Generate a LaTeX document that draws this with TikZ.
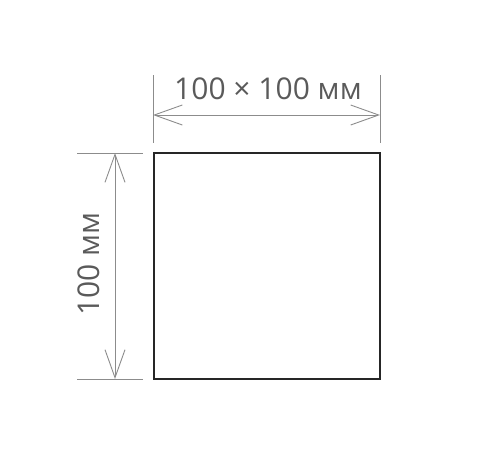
\documentclass[tikz,border=0pt]{standalone}
\usepackage{fontspec}
\setmainfont{Open Sans}
\usetikzlibrary{arrows.meta}
\definecolor{dimgray}{HTML}{8C8C8C}
\definecolor{labelgray}{HTML}{5A5A5A}
\begin{document}
\begin{tikzpicture}[x=1pt, y=-1pt,
  plate/.style={draw=black!85, line width=1.8pt},
  extline/.style={draw=dimgray, line width=0.9pt},
  dimline/.style={draw=dimgray, line width=0.9pt,
    {Straight Barb[length=28pt, width=20pt]}-{Straight Barb[length=28pt, width=20pt]}},
  dimlabel/.style={text=labelgray, font=\fontsize{30}{30}\selectfont, inner sep=0pt},
]
  \useasboundingbox (0,0) rectangle (500,450);

  % square plate
  \coordinate (tl) at (154,153);
  \coordinate (br) at (380,379);
  \draw[plate] (tl) rectangle (br);

  % top dimension
  \coordinate (ta0) at (153,75);
  \coordinate (ta1) at (153,143);
  \coordinate (tb0) at (380,75);
  \coordinate (tb1) at (380,143);
  \coordinate (ta) at (153,115);
  \coordinate (tb) at (380,115);
  \draw[extline] (ta0) -- (ta1);
  \draw[extline] (tb0) -- (tb1);
  \draw[dimline] (ta) -- (tb);
  \node[dimlabel] (toplabel) at (268,89) {100 × 100 мм};

  % left dimension
  \coordinate (la0) at (77,153);
  \coordinate (la1) at (143,153);
  \coordinate (lb0) at (77,379);
  \coordinate (lb1) at (143,379);
  \coordinate (la) at (115,153);
  \coordinate (lb) at (115,379);
  \draw[extline] (la0) -- (la1);
  \draw[extline] (lb0) -- (lb1);
  \draw[dimline] (la) -- (lb);
  \node[dimlabel, rotate=90] (leftlabel) at (89,264) {100 мм};
\end{tikzpicture}
\end{document}
